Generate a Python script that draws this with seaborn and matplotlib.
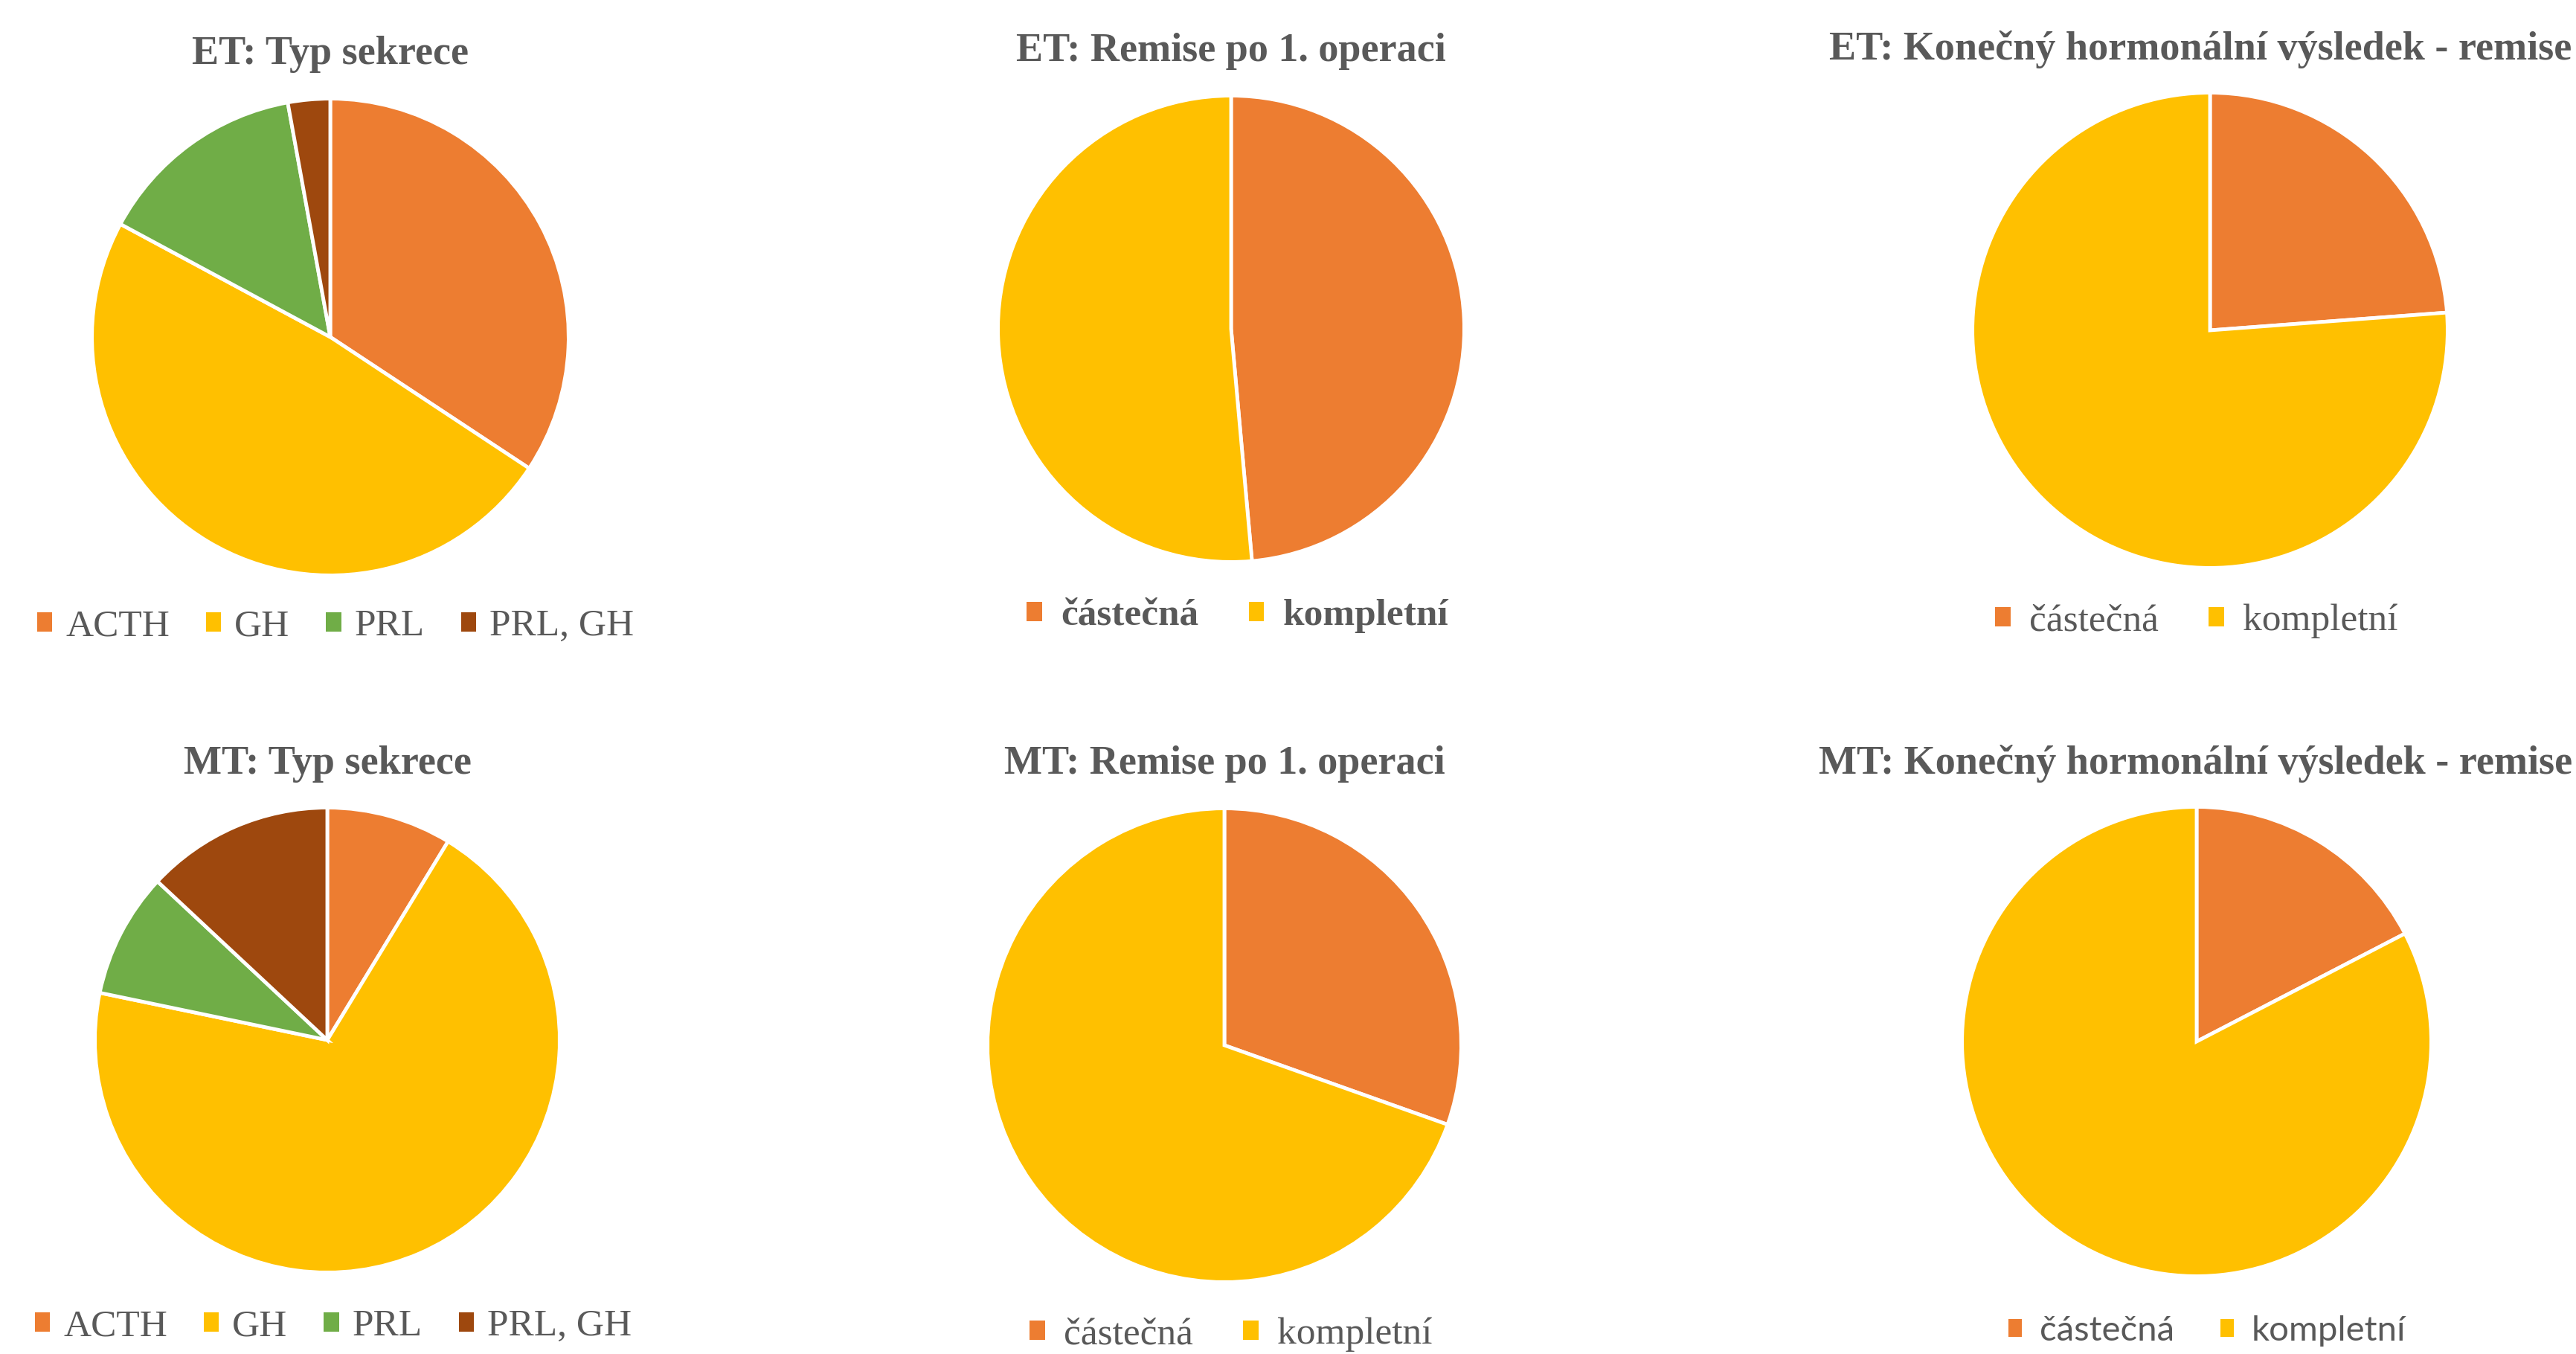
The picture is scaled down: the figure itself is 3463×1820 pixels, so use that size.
import matplotlib
matplotlib.use("Agg")
import matplotlib.pyplot as plt
from matplotlib.patches import Patch
import seaborn as sns

# ---- data ----
sekrece_labels = ["ACTH", "GH", "PRL", "PRL, GH"]
remise_labels = ["částečná", "kompletní"]

et_sekrece = [12, 17, 5, 1]
et_remise_1op = [17, 18]
et_konecny = [5, 16]

mt_sekrece = [2, 16, 2, 3]
mt_remise_1op = [7, 16]
mt_konecny = [4, 19]

titles = [
    "ET: Typ sekrece", "ET: Remise po 1. operaci", "ET: Konečný hormonální výsledek - remise",
    "MT: Typ sekrece", "MT: Remise po 1. operaci", "MT: Konečný hormonální výsledek - remise",
]

sekrece_colors = ["#ED7D31", "#FFC000", "#70AD47", "#9E480E"]
remise_colors = ["#ED7D31", "#FFC000"]
text_color = "#595959"

sns.set_theme(style="white")
plt.rcParams["font.family"] = ["Liberation Serif", "DejaVu Serif"]

W, H = 3463, 1820
fig = plt.figure(figsize=(W / 100, H / 100), dpi=100)
fig.patch.set_facecolor("white")

# (values, labels, colors, pie cx, cy, radius, title y, legend cx, legend y, bold legend, legend font)
panels = [
    (et_sekrece, sekrece_labels, sekrece_colors, 444, 453, 322, 73, 451, 842, False, None),
    (et_remise_1op, remise_labels, remise_colors, 1655, 442, 315, 69, 1664, 828, True, None),
    (et_konecny, remise_labels, remise_colors, 2971, 444, 321, 66, 2953, 835, False, None),
    (mt_sekrece, sekrece_labels, sekrece_colors, 440, 1398, 314, 1027, 448, 1783, False, None),
    (mt_remise_1op, remise_labels, remise_colors, 1646, 1405, 320, 1027, 1655, 1794, False, None),
    (mt_konecny, remise_labels, remise_colors, 2953, 1400, 317, 1027, 2967, 1789, False, ["Lato", "DejaVu Sans"]),
]

title_centers = [444, 1655, 2958, 440, 1646, 2952]

for i, (vals, labs, cols, cx, cy, r, ty, lx, ly, lbold, lfont) in enumerate(panels):
    ax = fig.add_axes([(cx - r) / W, 1 - (cy + r) / H, 2 * r / W, 2 * r / H])
    ax.pie(vals, colors=cols, startangle=90, counterclock=False, radius=1.0,
           wedgeprops=dict(edgecolor="white", linewidth=3.5))
    ax.set_xlim(-1.005, 1.005)
    ax.set_ylim(-1.005, 1.005)
    ax.set_aspect("equal")
    ax.axis("off")

    fig.text(title_centers[i] / W, 1 - ty / H, titles[i], ha="center", va="center",
             fontsize=39, fontweight="bold", color=text_color)

    handles = [Patch(facecolor=c, edgecolor="none") for c in cols]
    prop = dict(size=37)
    if lbold:
        prop["weight"] = "bold"
    if lfont:
        prop["family"] = lfont
        prop["size"] = 34
    two = len(labs) == 2
    leg = fig.legend(handles, labs, loc="center", bbox_to_anchor=(lx / W, 1 - ly / H),
                     ncol=len(labs), frameon=False, prop=prop,
                     handlelength=0.4, handleheight=0.4,
                     handletextpad=0.5 if two else 0.35,
                     columnspacing=1.3 if two else 0.95)
    for t in leg.get_texts():
        t.set_color(text_color)

fig.savefig("out.png", dpi=100, facecolor="white")
